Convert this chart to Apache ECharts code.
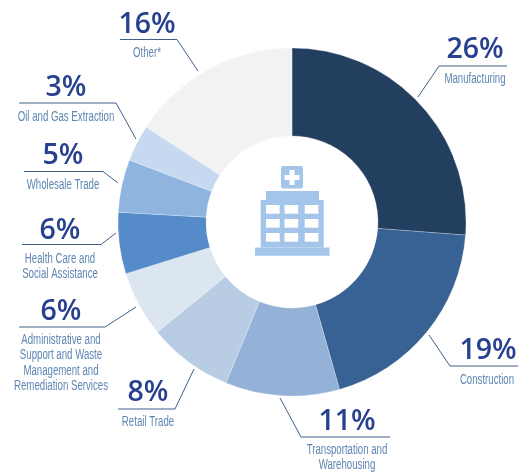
<!DOCTYPE html>
<html>
<head>
<meta charset="utf-8">
<style>html,body{margin:0;padding:0;background:#fff}#c{width:525px;height:472px}</style>
<script src="https://cdn.jsdelivr.net/npm/echarts@6/dist/echarts.min.js"></script>
</head>
<body>
<div id="c"></div>
<script>
const categories = ["Manufacturing","Construction","Transportation and\nWarehousing","Retail Trade","Administrative and\nSupport and Waste\nManagement and\nRemediation Services","Health Care and\nSocial Assistance","Wholesale Trade","Oil and Gas Extraction","Other*"];
const shares = [26.2,19.4,10.6,7.9,6.1,5.7,4.9,3.4,15.8];
const colors = ["#233f60","#386294","#94b2d7","#b8cce4","#dce6f1","#558bc8","#8fb4e0","#c6d9f0","#f2f2f2"];
// percent label anchor (centre x, top y), name label anchor (centre x, top y), leader line per slice
const labelAnchors = [[475,31.5],[488,332.5],[347,403.5],[148,374.5],[61,293.5],[60,212.5],[63,137.5],[66,69.5],[147,6.5]];
const nameAnchors = [[475,71],[487,372],[347,442],[148,414],[61,332.5],[60,251],[63,177],[66,109],[147,45]];
const leaderLines = [
 [[418,97],[439,66],[507,66]],
 [[429,335],[450,366],[518,366]],
 [[280,398],[301,437],[390,437]],
 [[194,369],[175,409],[118,409]],
 [[136,307],[105,327],[19,327]],
 [[116,233],[101,244.5],[22,244.5]],
 [[118,183],[103,171.5],[24,171.5]],
 [[136,139],[116,103],[19,103]],
 [[198,71],[177,39.5],[120,39.5]]
];
const iconBlue = "#a3c5e9";
const windowCols = [266,284.5,304.7];
const windowRows = [205,219,233];

const iconShapes = [
 {x:281,y:166,width:22,height:22.5,r:2,fill:iconBlue},
 {x:289.5,y:170,width:5,height:15,r:0,fill:"#fff"},
 {x:284.5,y:175,width:15,height:5,r:0,fill:"#fff"},
 {x:266,y:191,width:53,height:9,r:0,fill:iconBlue},
 {x:260.7,y:200,width:63,height:47.5,r:0,fill:iconBlue},
 {x:255,y:247.5,width:74.5,height:8.3,r:0,fill:iconBlue}
];
windowRows.forEach(y=>windowCols.forEach(x=>iconShapes.push({x,y,width:13.7,height:8.7,r:0,fill:"#fff"})));

const iconGraphics = iconShapes.map(s=>({type:"rect",silent:true,z:10,
   shape:{x:s.x,y:s.y,width:s.width,height:s.height,r:s.r},style:{fill:s.fill}}));
// the reference uses a condensed face: Liberation Sans squeezed horizontally
const nameGraphics = categories.map((name,i)=>({
  type:"text",silent:true,z:10,
  x:nameAnchors[i][0],y:nameAnchors[i][1],scaleX:0.69,
  style:{text:name,x:0,y:0,align:"center",verticalAlign:"top",
    font:"14px 'Liberation Sans'",lineHeight:15.3,fill:"#5f86b3"}
}));

const chart = echarts.init(document.getElementById("c"),null,{renderer:"canvas"});
chart.setOption({
 animation:false,
 backgroundColor:"#fff",
 series:[{
  type:"pie",
  center:[292,222],
  radius:[86,174],
  startAngle:90,
  clockwise:true,
  avoidLabelOverlap:false,
  silent:true,
  itemStyle:{borderColor:"rgba(255,255,255,0.5)",borderWidth:0.5},
  data:categories.map((name,i)=>({name,value:shares[i],itemStyle:{color:colors[i]}})),
  label:{
   show:true,
   position:"outside",
   formatter:p=>Math.round(p.value)+"%",
   fontFamily:"Open Sans",fontWeight:600,fontSize:28.5,lineHeight:36,color:"#27408f"
  },
  labelLine:{show:true,lineStyle:{color:"#3f6089",width:1}},
  labelLayout:p=>({
   x:labelAnchors[p.dataIndex][0],
   y:labelAnchors[p.dataIndex][1],
   align:"center",
   verticalAlign:"top",
   labelLinePoints:leaderLines[p.dataIndex]
  })
 }],
 graphic:iconGraphics.concat(nameGraphics)
});
</script>
</body>
</html>
